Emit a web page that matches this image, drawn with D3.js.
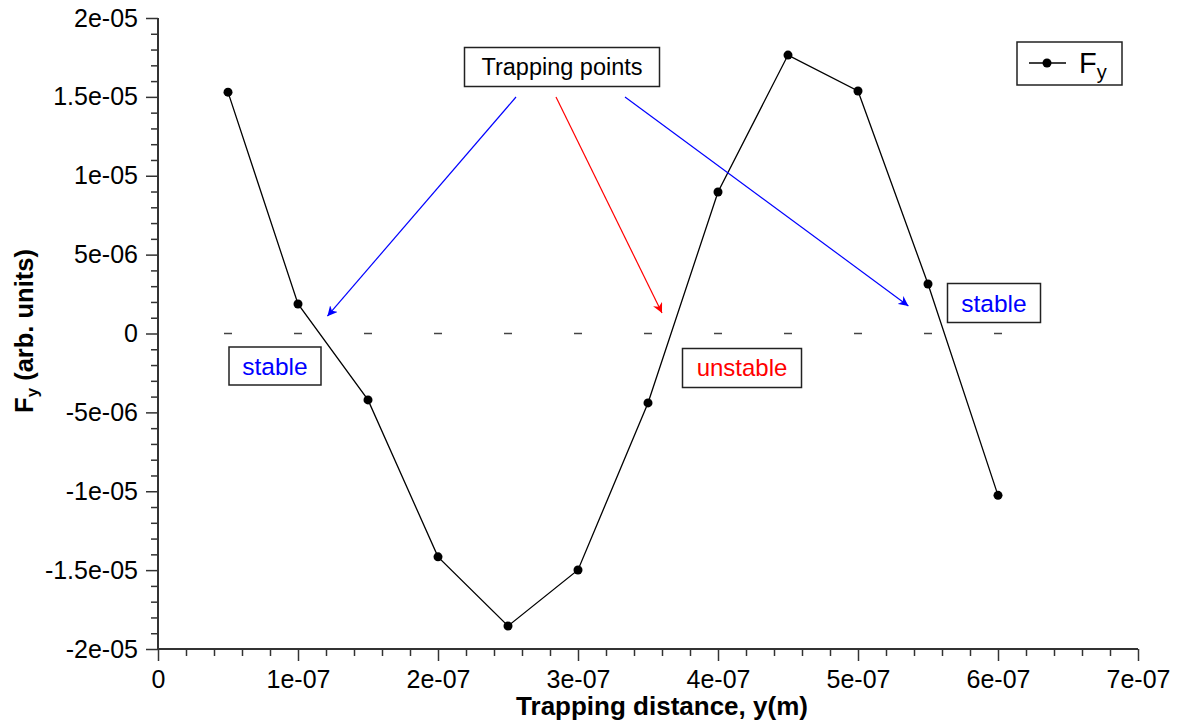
<!DOCTYPE html>
<html><head><meta charset="utf-8">
<script src="https://cdn.jsdelivr.net/npm/d3@7"></script>
<style>body{margin:0;background:#fff}svg{display:block}text{font-family:"Liberation Sans",Arial,Helvetica,sans-serif}</style>
</head><body><svg id="c" width="1179" height="722"></svg>
<script>
const xValues = [0.5e-7,1e-7,1.5e-7,2e-7,2.5e-7,3e-7,3.5e-7,4e-7,4.5e-7,5e-7,5.5e-7,6e-7];
const fyValues = [1.53e-5,1.87e-6,-4.21e-6,-1.416e-5,-1.854e-5,-1.499e-5,-4.40e-6,8.97e-6,1.765e-5,1.537e-5,3.14e-6,-1.026e-5];
const zeroValues = [0,0,0,0,0,0,0,0,0,0,0,0];
const xTicks = [0,1e-7,2e-7,3e-7,4e-7,5e-7,6e-7,7e-7];
const xTickLabels = ["0","1e-07","2e-07","3e-07","4e-07","5e-07","6e-07","7e-07"];
const yTicks = [-2e-5,-1.5e-5,-1e-5,-5e-6,0,5e-6,1e-5,1.5e-5,2e-5];
const yTickLabels = ["-2e-05","-1.5e-05","-1e-05","-5e-06","0","5e-06","1e-05","1.5e-05","2e-05"];
const annoTitle = "Trapping points";
const stableLabels = ["stable","stable"];
const unstableLabel = "unstable";

const svg = d3.select("#c");
const L=158, R=1138, T=18, B=649;
const x = d3.scaleLinear().domain([0,7e-7]).range([L,R]);
const y = d3.scaleLinear().domain([-2e-5,2e-5]).range([B,T]);

const xAxis = d3.axisBottom(x).tickValues(xTicks).tickFormat((d,i)=>xTickLabels[i]).tickSize(12).tickPadding(9);
const gx = svg.append("g").attr("transform",`translate(0,${B})`).call(xAxis);
const xMinor = d3.range(0,7e-7+1e-12,0.2e-7).filter(v=>Math.abs(v/1e-7-Math.round(v/1e-7))>1e-6);
svg.append("g").attr("transform",`translate(0,${B})`)
  .call(d3.axisBottom(x).tickValues(xMinor).tickSize(7).tickFormat(""))
  .call(g=>g.select(".domain").remove());
const yAxis = d3.axisLeft(y).tickValues(yTicks).tickFormat((d,i)=>yTickLabels[i]).tickSize(12).tickPadding(8);
const gy = svg.append("g").attr("transform",`translate(${L},0)`).call(yAxis);
const yMinor = d3.range(-2e-5,2e-5+1e-12,1e-6).filter(v=>Math.abs(v/5e-6-Math.round(v/5e-6))>1e-6);
svg.append("g").attr("transform",`translate(${L},0)`)
  .call(d3.axisLeft(y).tickValues(yMinor).tickSize(7).tickFormat(""))
  .call(g=>g.select(".domain").remove());
svg.selectAll(".domain").attr("stroke","#333").attr("stroke-width",2);
svg.selectAll(".tick line").attr("stroke","#333").attr("stroke-width",1.5);
svg.selectAll(".tick text").attr("font-size",25).attr("fill","#000").style("font-family",'"Liberation Sans",Arial,sans-serif');
gx.select(".domain").attr("d",`M${L},0H${R}`);
gy.select(".domain").attr("d",`M0,${B}V${T}`);

svg.append("g").selectAll("line").data(xValues).join("line")
  .attr("x1",d=>x(d)-4).attr("x2",d=>x(d)+4)
  .attr("y1",(d,i)=>y(zeroValues[i])).attr("y2",(d,i)=>y(zeroValues[i]))
  .attr("stroke","#444").attr("stroke-width",1.5);

const line = d3.line().x((d,i)=>x(xValues[i])).y(d=>y(d));
svg.append("path").datum(fyValues).attr("d",line).attr("fill","none").attr("stroke","#000").attr("stroke-width",1.3);
svg.append("g").selectAll("circle").data(fyValues).join("circle")
  .attr("cx",(d,i)=>x(xValues[i])).attr("cy",d=>y(d)).attr("r",4.5).attr("fill","#000");

const defs = svg.append("defs");
["blue","red"].forEach(c=>{
  defs.append("marker").attr("id","arr-"+c).attr("viewBox","0 0 10 10").attr("refX",10).attr("refY",5)
    .attr("markerWidth",10).attr("markerHeight",10).attr("markerUnits","userSpaceOnUse").attr("orient","auto")
    .append("path").attr("d","M0,0L10,5L0,10L3,5Z").attr("fill",c);
});
function box(cx,cy,w,h,text,color,fs){
  svg.append("rect").attr("x",cx-w/2).attr("y",cy-h/2).attr("width",w).attr("height",h)
    .attr("fill","#fff").attr("stroke","#222").attr("stroke-width",1.5);
  svg.append("text").attr("x",cx).attr("y",cy).attr("dy","0.35em").attr("text-anchor","middle")
    .attr("font-size",fs).attr("fill",color).text(text);
}
const arrows = [
  {x1:516,y1:97, tx:1.21e-7, ty:1.1e-6, c:"blue"},
  {x1:556,y1:97, tx:3.6e-7, ty:1.3e-6, c:"red"},
  {x1:625,y1:97, tx:5.36e-7, ty:1.75e-6, c:"blue"}
];
svg.append("g").selectAll("line").data(arrows).join("line")
  .attr("x1",d=>d.x1).attr("y1",d=>d.y1).attr("x2",d=>x(d.tx)).attr("y2",d=>y(d.ty))
  .attr("stroke",d=>d.c).attr("stroke-width",1.2).attr("marker-end",d=>`url(#arr-${d.c})`);

box(562,67,195,39,annoTitle,"#000",23.5);
box(275,366,92,38,stableLabels[0],"#0000ff",24.5);
box(994,303,93,39,stableLabels[1],"#0000ff",24.5);
box(742,368,119,39,unstableLabel,"#ff0000",24);

svg.append("rect").attr("x",1017).attr("y",42).attr("width",105).attr("height",43).attr("fill","#fff").attr("stroke","#222").attr("stroke-width",1.5);
svg.append("line").attr("x1",1029).attr("x2",1066).attr("y1",63).attr("y2",63).attr("stroke","#000").attr("stroke-width",1.3);
svg.append("circle").attr("cx",1047).attr("cy",63).attr("r",4.5).attr("fill","#000");
const lt = svg.append("text").attr("x",1079).attr("y",73).attr("font-size",29).attr("fill","#000");
lt.append("tspan").text("F");
lt.append("tspan").attr("font-size",20).attr("dy",6).text("y");

svg.append("text").attr("x",662).attr("y",715).attr("text-anchor","middle").attr("font-size",26).attr("font-weight","bold").text("Trapping distance, y(m)");
const yt = svg.append("text").attr("transform","translate(33,331) rotate(-90)").attr("text-anchor","middle").attr("font-size",25.5).attr("font-weight","bold");
yt.append("tspan").text("F");
yt.append("tspan").attr("font-size",17).attr("dy",5).text("y");
yt.append("tspan").attr("dy",-5).text(" (arb. units)");
</script></body></html>
